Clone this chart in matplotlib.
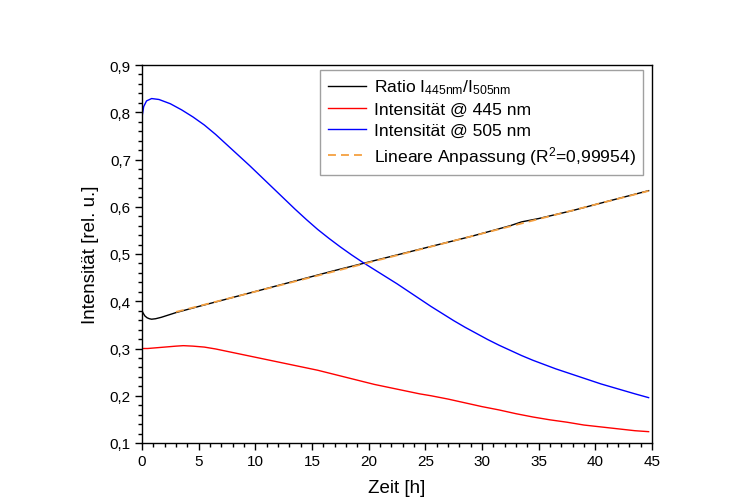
import matplotlib
matplotlib.use('Agg')
from matplotlib import pyplot as plt
from matplotlib.ticker import MultipleLocator, FuncFormatter

plt.rcParams['font.family'] = ['Liberation Sans', 'DejaVu Sans']
plt.rcParams['mathtext.default'] = 'regular'

# Verhältnis I445/I505
t_ratio = [0, 0.1, 0.25, 0.45, 0.65, 0.85, 1.2, 1.7, 3, 5, 8, 11, 14, 17, 20, 23, 26, 29, 31,
           32.5, 33.5, 35, 38, 41, 44.7]
ratio = [0.380, 0.375, 0.369, 0.365, 0.363, 0.362, 0.363, 0.366, 0.376, 0.389, 0.408, 0.427,
         0.446, 0.465, 0.483, 0.501, 0.519, 0.537, 0.550, 0.560, 0.568, 0.575, 0.592, 0.611, 0.634]

# Intensität bei 445 nm
t_445 = [0, 0.5, 1, 2, 3, 3.65, 4.5, 5.5, 6.5, 7.5, 8.5, 9.5, 10.5, 11.5, 12.5, 13.5, 14.5,
         15.5, 16.5, 17.5, 18.5, 19.5, 20.5, 21.5, 22.5, 23.5, 24.5, 25.5, 27, 28.5, 30, 31.5,
         33, 34.5, 36, 37.5, 39, 40.5, 42, 43.5, 44.7]
i_445 = [0.300, 0.300, 0.301, 0.303, 0.305, 0.306, 0.305, 0.303, 0.299, 0.294, 0.289, 0.284,
         0.279, 0.274, 0.269, 0.264, 0.259, 0.254, 0.248, 0.242, 0.236, 0.230, 0.224, 0.219,
         0.214, 0.209, 0.204, 0.200, 0.193, 0.185, 0.177, 0.170, 0.162, 0.155, 0.149, 0.144,
         0.138, 0.134, 0.130, 0.126, 0.124]

# Intensität bei 505 nm
t_505 = [0, 0.15, 0.4, 0.85, 1.5, 2.5, 3.5, 4.5, 5.5, 6.5, 7.5, 8.5, 9.5, 10.5, 11.5, 12.5,
         13.5, 14.5, 15.5, 16.5, 17.5, 18.5, 19.5, 20.5, 21.5, 22.5, 23.5, 24.5, 25.5, 26.5,
         27.5, 28.5, 29.5, 30.5, 31.5, 32.5, 33.5, 34.5, 35.5, 36.5, 37.5, 38.5, 39.5, 40.5,
         41.5, 42.5, 43.5, 44.7]
i_505 = [0.790, 0.812, 0.824, 0.829, 0.827, 0.818, 0.805, 0.790, 0.773, 0.753, 0.731, 0.709,
         0.687, 0.664, 0.641, 0.618, 0.595, 0.573, 0.552, 0.533, 0.515, 0.498, 0.482, 0.467,
         0.452, 0.437, 0.421, 0.405, 0.389, 0.374, 0.359, 0.345, 0.332, 0.319, 0.307, 0.296,
         0.285, 0.275, 0.266, 0.257, 0.249, 0.241, 0.233, 0.225, 0.218, 0.211, 0.204, 0.196]

# lineare Anpassung (Endpunkte)
t_fit = [3.0, 44.7]
fit = [0.3774, 0.6335]

fig = plt.figure(figsize=(7.42, 5.02), dpi=100)
ax = fig.add_axes([142/742, 58/502, 510/742, 378/502])

ax.plot(t_ratio, ratio, color='black', lw=1.0,
        label=r'Ratio I$_{445nm}$/I$_{505nm}$')
ax.plot(t_445, i_445, color='#ff0000', lw=1.0, label='Intensität @ 445 nm')
ax.plot(t_505, i_505, color='#0000ff', lw=1.0, label='Intensität @ 505 nm')
ax.plot(t_fit, fit, color='#f5a040', lw=1.3, ls=(0, (4.4, 2.8)),
        label=r'Lineare Anpassung (R$^2$=0,99954)')

ax.set_xlim(0, 45)
ax.set_ylim(0.1, 0.9)
ax.xaxis.set_major_locator(MultipleLocator(5))
ax.xaxis.set_minor_locator(MultipleLocator(1))
ax.yaxis.set_major_locator(MultipleLocator(0.1))
ax.yaxis.set_minor_locator(MultipleLocator(0.02))
ax.yaxis.set_major_formatter(FuncFormatter(lambda v, p: ('%.1f' % v).replace('.', ',')))
ax.xaxis.set_major_formatter(FuncFormatter(lambda v, p: '%d' % v))

ax.tick_params(which='both', direction='out', top=False, right=False, labelsize=11, width=1.0)
ax.tick_params(which='major', length=5, pad=3)
ax.tick_params(which='minor', length=3)
for s in ax.spines.values():
    s.set_linewidth(1.0)

ax.set_xlabel('Zeit [h]', fontsize=13.5, labelpad=8)
ax.set_ylabel('Intensität [rel. u.]', fontsize=13.5, labelpad=8)

leg = ax.legend(loc='upper right', bbox_to_anchor=(0.983, 0.987), borderaxespad=0,
                fontsize=12.6, fancybox=False, framealpha=1, edgecolor='#a0a0a0',
                handlelength=2.2, handletextpad=0.42, labelspacing=0.32, borderpad=0.45)
leg.get_frame().set_linewidth(1.0)

fig.savefig('out.png', dpi=100)
